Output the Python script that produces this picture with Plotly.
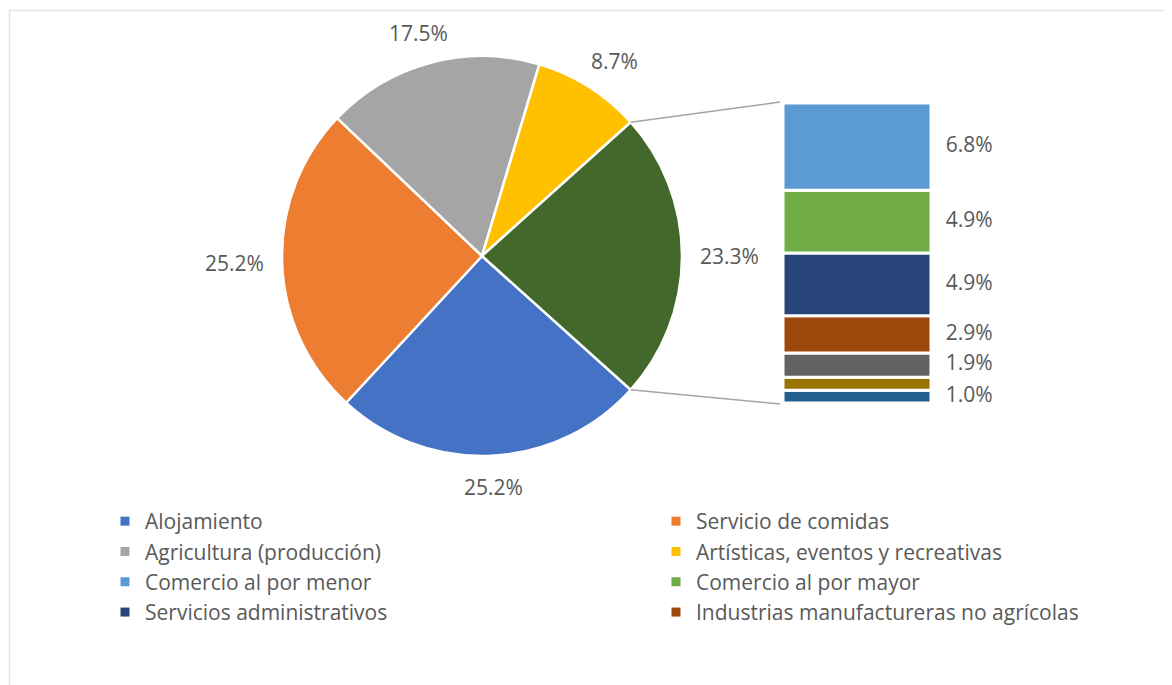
import math
import plotly.graph_objects as go

# ---------------- data ----------------
pie_labels = ["Alojamiento", "Servicio de comidas", "Agricultura (producción)",
              "Artísticas, eventos y recreativas", "Otro"]
pie_values = [25.2, 25.2, 17.5, 8.7, 23.3]
pie_colors = ["#4472C4", "#ED7D31", "#A5A5A5", "#FFC000", "#43682B"]

bar_labels = ["Comercio al por menor", "Comercio al por mayor", "Servicios administrativos",
              "Industrias manufactureras no agrícolas", "Otras actividades A",
              "Otras actividades B", "Otras actividades C"]
bar_values = [6.8, 4.9, 4.9, 2.9, 1.9, 1.0, 1.0]
bar_colors = ["#5B9BD5", "#70AD47", "#264478", "#9E480E", "#636363", "#997300", "#255E91"]
bar_show_label = [True, True, True, True, True, False, True]

legend_labels = ["Alojamiento", "Servicio de comidas", "Agricultura (producción)",
                 "Artísticas, eventos y recreativas", "Comercio al por menor",
                 "Comercio al por mayor", "Servicios administrativos",
                 "Industrias manufactureras no agrícolas"]
legend_colors = ["#4472C4", "#ED7D31", "#A5A5A5", "#FFC000", "#5B9BD5", "#70AD47",
                 "#264478", "#9E480E"]

# ---------------- layout geometry (page pixels) ----------------
W, H = 1172, 685
OFF = 8  # default body margin of the page
FONT = "'Open Sans', 'Noto Sans', sans-serif"
TXT = "#595959"
FS = 21

pie_cx, pie_cy, pie_r = 482, 256, 200
bar_left, bar_top, bar_bottom = 783, 103, 403
bar_w_px = 148
lab_gap, lab_hw, lab_hh = 20, 28, 11

def px_x(x):
    return (x - OFF) / W

def px_y(y):
    return 1 - (y - OFF) / H

total = sum(pie_values)
otro_frac = pie_values[-1] / total
rotation = 90 + 180 * otro_frac

fig = go.Figure()

fig.add_trace(go.Pie(
    labels=pie_labels, values=pie_values, sort=False, direction="clockwise",
    rotation=rotation,
    marker=dict(colors=pie_colors, line=dict(color="white", width=2.5)),
    text=[f"{v:.1f}%" for v in pie_values], textinfo="none",
    domain=dict(x=[px_x(pie_cx - pie_r), px_x(pie_cx + pie_r)],
                y=[px_y(pie_cy + pie_r), px_y(pie_cy - pie_r)]),
    showlegend=False, hoverinfo="label+text",
))

# pie data labels placed outside each slice, along its mid angle
annotations = []
cum = 0.0
for v in pie_values:
    th = math.radians(rotation + 360 * (cum + v / 2) / total)
    cum += v
    s, c = math.sin(th), math.cos(th)
    lx = pie_cx + (pie_r + lab_gap) * s + s * lab_hw
    ly = pie_cy - (pie_r + lab_gap) * c - c * lab_hh
    annotations.append(dict(x=px_x(lx), y=px_y(ly), xref="paper", yref="paper",
                            text=f"{v:.1f}%", showarrow=False,
                            xanchor="center", yanchor="middle",
                            font=dict(size=FS, color=TXT, family=FONT)))

# stacked bar (bottom to top)
base = 0.0
mids = []
for lab, val, col in list(zip(bar_labels, bar_values, bar_colors))[::-1]:
    fig.add_trace(go.Bar(
        x=[0.5], y=[val], base=[base], width=[1.0], name=lab,
        marker=dict(color=col, line=dict(color="white", width=3)),
        xaxis="x2", yaxis="y2", showlegend=False, hoverinfo="name+y",
    ))
    mids.append(base + val / 2)
    base += val
mids = mids[::-1]
bar_total = base

fig.add_trace(go.Scatter(
    x=[1.1] * len(bar_values), y=mids, mode="text",
    text=[f"{v:.1f}%" if s else "" for v, s in zip(bar_values, bar_show_label)],
    textposition="middle right", textfont=dict(size=FS, color=TXT, family=FONT),
    xaxis="x2", yaxis="y2", showlegend=False, hoverinfo="skip",
))

# legend entries
for lab, col in zip(legend_labels, legend_colors):
    fig.add_trace(go.Scatter(
        x=[None], y=[None], mode="markers", name=lab,
        marker=dict(symbol="square", size=9, color=col),
        xaxis="x2", yaxis="y2",
    ))

# connector lines from the pie "Otro" slice edges to the bar
a_top = math.radians(90 - 180 * otro_frac)
a_bot = math.radians(90 + 180 * otro_frac)
shapes = []
for a, yb in [(a_top, bar_top - 1), (a_bot, bar_bottom + 1)]:
    x0 = pie_cx + pie_r * math.sin(a)
    y0 = pie_cy - pie_r * math.cos(a)
    shapes.append(dict(type="line", xref="paper", yref="paper",
                       x0=px_x(x0), y0=px_y(y0), x1=px_x(bar_left - 3), y1=px_y(yb),
                       line=dict(color="#A5A5A5", width=1.5)))
# chart border
shapes.append(dict(type="rect", xref="paper", yref="paper",
                   x0=px_x(9.5), y0=px_y(720), x1=px_x(1200), y1=px_y(10.5),
                   line=dict(color="#E3E3E3", width=1.5), layer="below"))

fig.update_layout(
    width=W, height=H, margin=dict(l=0, r=0, t=0, b=0, autoexpand=False),
    paper_bgcolor="white", plot_bgcolor="white",
    barmode="overlay",
    font=dict(family=FONT, color=TXT, size=FS),
    xaxis2=dict(domain=[px_x(bar_left), px_x(bar_left + 2 * bar_w_px)], range=[0, 2],
                visible=False, fixedrange=True),
    yaxis2=dict(domain=[px_y(bar_bottom), px_y(bar_top)], range=[0, bar_total],
                visible=False, fixedrange=True, anchor="x2"),
    xaxis=dict(visible=False), yaxis=dict(visible=False),
    showlegend=True,
    legend=dict(orientation="h", x=px_x(105), y=px_y(501), xanchor="left", yanchor="top",
                entrywidth=506, entrywidthmode="pixels", itemwidth=30,
                font=dict(size=FS, color=TXT, family=FONT), bgcolor="rgba(0,0,0,0)"),
    shapes=shapes,
    annotations=annotations,
)

fig.write_html("out.html")
